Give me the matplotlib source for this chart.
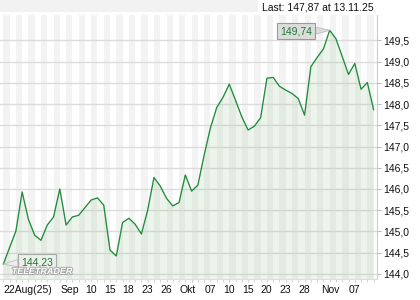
import matplotlib.pyplot as plt
import matplotlib.patheffects as pe
from matplotlib.patches import Rectangle
import numpy as np

plt.rcParams['font.family'] = ['Liberation Sans', 'DejaVu Sans']

# Data: one close per trading day, 22 Aug 2025 .. 13 Nov 2025
prices = [144.23, 144.62, 145.01, 145.93, 145.28, 144.91, 144.79, 145.15, 145.34, 146.00,
          145.15, 145.34, 145.38, 145.56, 145.74, 145.79, 145.62, 144.56, 144.42, 145.21,
          145.31, 145.17, 144.94, 145.50, 146.27, 146.07, 145.78, 145.60, 145.68, 146.33,
          145.95, 146.09, 146.80, 147.44, 147.92, 148.16, 148.47, 148.09, 147.70, 147.39,
          147.48, 147.68, 148.61, 148.63, 148.42, 148.33, 148.25, 148.13, 147.74, 148.88,
          149.10, 149.30, 149.74, 149.54, 149.12, 148.70, 148.96, 148.35, 148.51, 147.87]

date_labels = ['22Aug(25)', 'Sep', '10', '15', '18', '23', '26', 'Okt',
               '07', '10', '15', '20', '23', '28', 'Nov', '07']
label_days = [0, 9.2, 13, 16, 19, 22, 25, 28, 32, 35, 38, 41, 44, 47, 50.6, 55]

y_ticks = [144.0, 144.5, 145.0, 145.5, 146.0, 146.5, 147.0, 147.5, 148.0, 148.5, 149.0, 149.5]

x = np.arange(len(prices))
p = np.array(prices)

fig = plt.figure(figsize=(4.2, 3.0), dpi=100)
ax = fig.add_axes([0, 21.5 / 300, 377 / 420, 263.5 / 300])

# header band + last quote
fig.add_artist(Rectangle((0, 288 / 300), 258 / 420, 12 / 300, transform=fig.transFigure,
                         color='#f2f2f2', lw=0))
fig.text(374 / 420, 1 - 7 / 300, 'Last: 147,87 at 13.11.25', ha='right', va='center',
         fontsize=7.5, color='#111111')

ax.set_xlim(-0.53, len(prices) - 0.46)
ax.set_ylim(143.89, 150.10)

# alternating day stripes
for k in range(0, len(prices) - 1, 2):
    ax.axvspan(k, k + 1, color='#f3f3f3', lw=0, zorder=0)

ax.grid(axis='y', color='#dcdcdc', linewidth=1.0, zorder=1)
ax.set_axisbelow(True)

ax.fill_between(x, p, 140, color='#8dc08d', alpha=0.16, lw=0, zorder=2)
ax.plot(x, p, color='#1f8b3b', lw=0.95, zorder=3)

# max / min callouts
imax, imin = int(np.argmax(p)), int(np.argmin(p))
ax.annotate(f'{p[imax]:.2f}'.replace('.', ','), xy=(imax, p[imax]), xytext=(-34, -1),
            textcoords='offset pixels', ha='center', va='center', color='#1f7a35', fontsize=7.5,
            bbox=dict(boxstyle='square,pad=0.3', fc='#dcdcdc', ec='#9a9a9a', lw=0.8),
            arrowprops=dict(arrowstyle='wedge,tail_width=0.7', fc='#dcdcdc', ec='#bdbdbd',
                            lw=0.6, shrinkA=0, shrinkB=0), zorder=5)
ax.annotate(f'{p[imin]:.2f}'.replace('.', ','), xy=(imin, p[imin]), xytext=(34, 2),
            textcoords='offset pixels', ha='center', va='center', color='#1f7a35', fontsize=7.5,
            bbox=dict(boxstyle='square,pad=0.3', fc='#eeeeee', ec='#9a9a9a', lw=0.8, alpha=0.8),
            arrowprops=dict(arrowstyle='wedge,tail_width=0.7', fc='#eeeeee', ec='#bdbdbd',
                            lw=0.6, shrinkA=0, shrinkB=0), zorder=5)

# watermark
fig.text(42 / 420, 1 - 271.5 / 300, 'TELETRADER', ha='center', va='center', fontsize=6.5,
         fontweight='bold', fontstyle='italic', color='white', zorder=10,
         path_effects=[pe.withStroke(linewidth=1.4, foreground='#a8a8a8')])

# axes styling
for s in ['top', 'left']:
    ax.spines[s].set_visible(False)
ax.spines['right'].set_color('#cccccc')
ax.spines['bottom'].set_color('#dddddd')

ax.yaxis.tick_right()
ax.set_yticks(y_ticks)
ax.set_yticklabels([f'{v:.1f}'.replace('.', ',') for v in y_ticks])
ax.tick_params(axis='y', length=3, color='#bbbbbb', pad=1.5, labelsize=7.5, labelcolor='#111111')

ax.set_xticks([])
ax.set_xticks(x, minor=True)
ax.tick_params(axis='x', which='minor', length=2.5, color='#cccccc', direction='out')

for pos, lab in zip(label_days, date_labels):
    ax.annotate(lab, xy=(pos, 0), xycoords=('data', 'axes fraction'), xytext=(0, -11.5),
                textcoords='offset pixels', ha='left', va='center', fontsize=7.5,
                color='#111111', annotation_clip=False)

fig.savefig('out.png', dpi=100)
